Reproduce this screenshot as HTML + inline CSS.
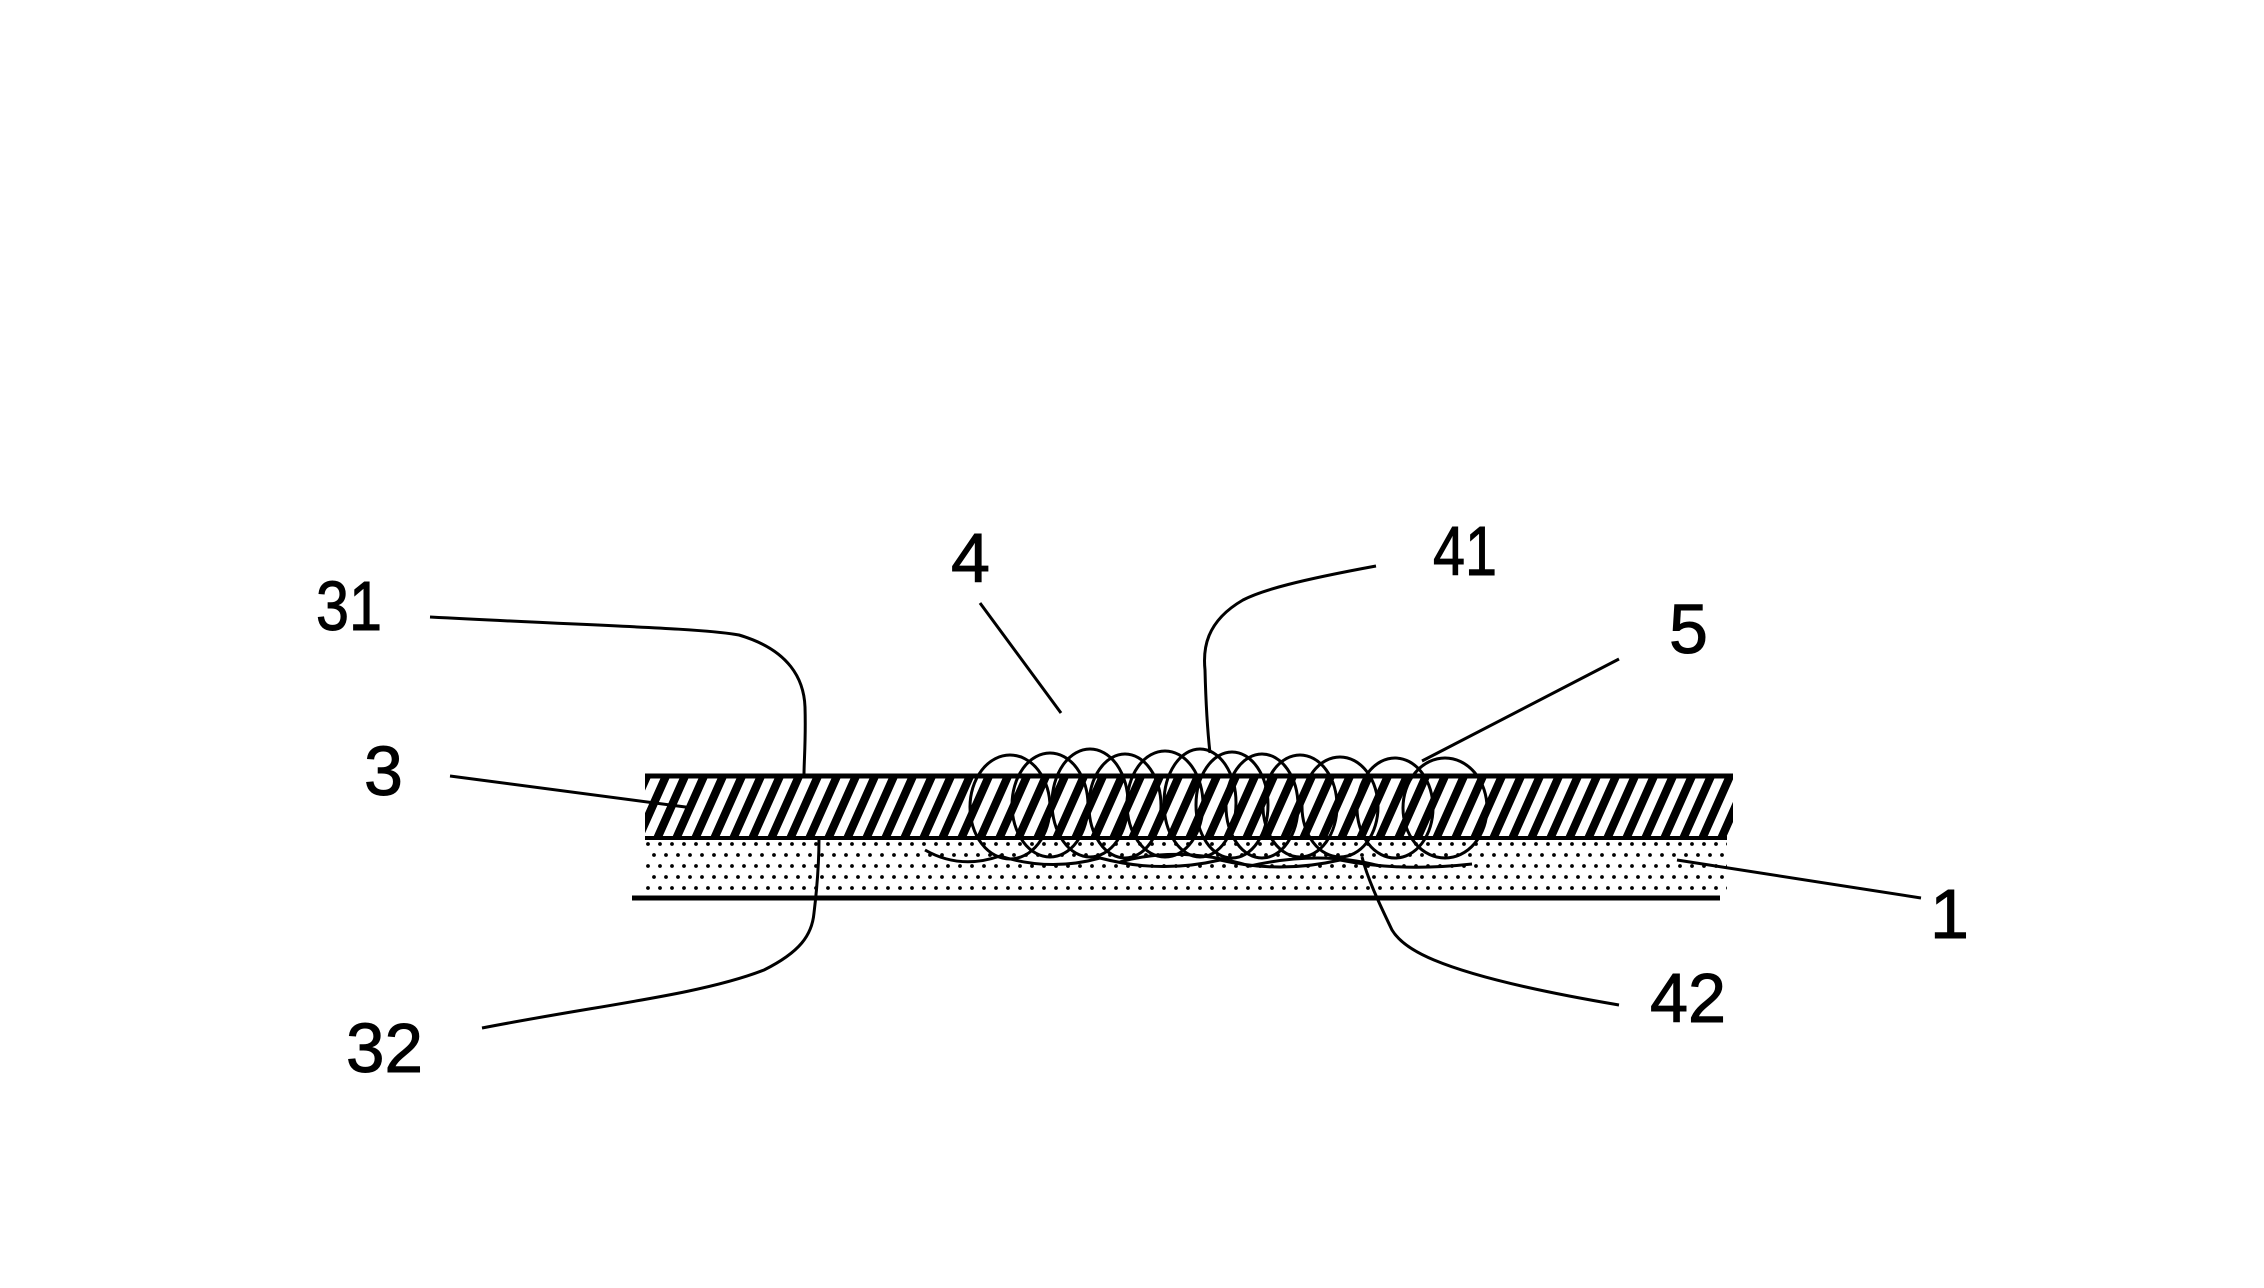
<!DOCTYPE html>
<html><head><meta charset="utf-8"><style>
html,body{margin:0;padding:0;background:#fff;}
svg{display:block;}
text{font-family:"Liberation Sans",Arial,sans-serif;font-size:70px;fill:#000;stroke:#000;stroke-width:1;}
</style></head><body>
<svg width="2264" height="1288" viewBox="0 0 2264 1288" xmlns="http://www.w3.org/2000/svg">
<defs>
<pattern id="hatch" width="19" height="200" patternUnits="userSpaceOnUse" patternTransform="skewX(-24)">
<rect x="0" y="0" width="9" height="200" fill="#000"/>
</pattern>
<pattern id="dots" width="12" height="22" patternUnits="userSpaceOnUse" x="645" y="838">
<circle cx="3" cy="6" r="1.9" fill="#000"/>
<circle cx="9" cy="17" r="1.9" fill="#000"/>
</pattern>
<clipPath id="hc"><rect x="645" y="776" width="1088" height="62"/></clipPath>
</defs>

<rect x="645" y="776" width="1088" height="62" fill="url(#hatch)" clip-path="url(#hc)"/>
<rect x="645" y="840" width="1082" height="57" fill="url(#dots)"/>
<line x1="645" y1="776" x2="1733" y2="776" stroke="#000" stroke-width="5"/>
<line x1="645" y1="838" x2="1727" y2="838" stroke="#000" stroke-width="4"/>
<line x1="632" y1="898" x2="1720" y2="898" stroke="#000" stroke-width="5"/>

<g fill="none" stroke="#000" stroke-width="3">
<ellipse cx="1010" cy="807" rx="40" ry="52"/>
<ellipse cx="1050" cy="805" rx="38" ry="52"/>
<ellipse cx="1090" cy="803" rx="38" ry="54"/>
<ellipse cx="1125" cy="806" rx="36" ry="52"/>
<ellipse cx="1165" cy="804" rx="38" ry="53"/>
<ellipse cx="1200" cy="803" rx="36" ry="54"/>
<ellipse cx="1232" cy="805" rx="36" ry="53"/>
<ellipse cx="1262" cy="806" rx="36" ry="52"/>
<ellipse cx="1300" cy="806" rx="37" ry="51"/>
<ellipse cx="1340" cy="807" rx="38" ry="50"/>
<ellipse cx="1395" cy="808" rx="38" ry="50"/>
<ellipse cx="1445" cy="808" rx="42" ry="50"/>
<path d="M925 850 Q960 870 1000 856 Q1050 872 1100 858 Q1160 874 1220 860 Q1280 874 1340 860 Q1400 872 1472 864"/>
<path d="M1120 862 Q1180 845 1250 866 Q1320 850 1380 866"/>
</g>

<g fill="none" stroke="#000" stroke-width="3">
<path d="M430 617 C600 626 700 628 739 635 C790 650 804 680 805 707 C806 740 804 760 804 775"/>
<path d="M450 776 L693 808"/>
<path d="M482 1028 C600 1005 700 995 764 970 C800 952 812 935 814 913 C818 880 819 860 819 838"/>
<path d="M980 603 L1061 713"/>
<path d="M1376 566 C1300 580 1262 590 1243 600 C1205 622 1203 650 1205 670 C1206 710 1208 735 1210 753"/>
<path d="M1619 659 L1422 761"/>
<path d="M1677 860 L1921 898"/>
<path d="M1619 1005 C1530 990 1470 975 1434 960 C1410 950 1398 940 1392 930 C1380 905 1368 880 1362 857"/>
</g>

<text x="316" y="630" textLength="66" lengthAdjust="spacingAndGlyphs">31</text>
<text x="364" y="795">3</text>
<text x="346" y="1072" textLength="77" lengthAdjust="spacingAndGlyphs">32</text>
<text x="951" y="582">4</text>
<text x="1433" y="575" textLength="64" lengthAdjust="spacingAndGlyphs">41</text>
<text x="1669" y="653">5</text>
<text x="1930" y="938">1</text>
<text x="1650" y="1022" textLength="76" lengthAdjust="spacingAndGlyphs">42</text>
</svg>
</body></html>
